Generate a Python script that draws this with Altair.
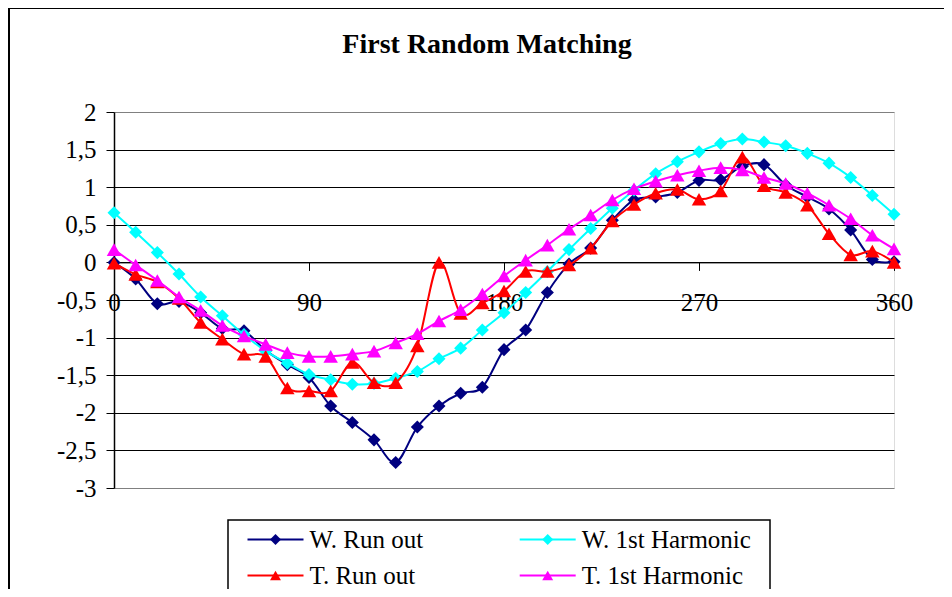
import altair as alt
import pandas as pd

# ---------------- data ----------------
angles = list(range(0, 361, 10))

w_run_out = [0.0, -0.22, -0.55, -0.52, -0.67, -0.88, -0.91, -1.17, -1.36, -1.53,
             -1.91, -2.13, -2.36, -2.66, -2.19, -1.91, -1.74, -1.66, -1.16, -0.90,
             -0.40, -0.02, 0.19, 0.56, 0.83, 0.87, 0.93, 1.09, 1.10, 1.28,
             1.30, 1.03, 0.87, 0.71, 0.43, 0.04, 0.01]

w_1st_harm = [0.66, 0.40, 0.13, -0.155, -0.46, -0.71, -0.96, -1.18, -1.34, -1.49,
              -1.56, -1.62, -1.61, -1.54, -1.45, -1.28, -1.14, -0.90, -0.67, -0.40,
              -0.12, 0.17, 0.45, 0.72, 0.96, 1.18, 1.34, 1.47, 1.58, 1.64,
              1.60, 1.55, 1.45, 1.32, 1.13, 0.89, 0.64]

t_run_out = [-0.01, -0.16, -0.26, -0.48, -0.80, -1.02, -1.22, -1.25, -1.67, -1.71,
             -1.71, -1.33, -1.60, -1.60, -1.11, 0.0, -0.68, -0.54, -0.38, -0.12,
             -0.12, -0.035, 0.19, 0.55, 0.77, 0.92, 0.97, 0.84, 0.95, 1.40,
             1.02, 0.93, 0.76, 0.38, 0.10, 0.15, 0.0]

t_1st_harm = [0.17, -0.035, -0.24, -0.46, -0.64, -0.84, -0.98, -1.09, -1.20, -1.25,
              -1.25, -1.22, -1.18, -1.07, -0.95, -0.78, -0.63, -0.42, -0.18, 0.03,
              0.23, 0.44, 0.63, 0.83, 0.98, 1.08, 1.16, 1.22, 1.26, 1.23,
              1.13, 1.05, 0.92, 0.76, 0.58, 0.36, 0.18]

series_names = ["W. Run out", "W. 1st Harmonic", "T. Run out", "T. 1st Harmonic"]
series_values = [w_run_out, w_1st_harm, t_run_out, t_1st_harm]
series_colors = ["#000080", "#00FFFF", "#FF0000", "#FF00FF"]
series_shapes = ["diamond", "diamond", "triangle-up", "triangle-up"]

y_ticks = [2, 1.5, 1, 0.5, 0, -0.5, -1, -1.5, -2, -2.5, -3]
x_ticks = [0, 90, 180, 270, 360]
chart_title = "First Random Matching"

# ---------------- layout / style ----------------
W, H = 780, 376
FONT = "Liberation Serif"
Y_MIN, Y_MAX = -3, 2
x_axis_offset = -H * (0 - Y_MIN) / (Y_MAX - Y_MIN)  # put x axis at y = 0

xscale = alt.Scale(domain=[0, 360], nice=False, zero=False)
yscale = alt.Scale(domain=[Y_MIN, Y_MAX], nice=False, zero=False)

x_axis = alt.Axis(orient="bottom", offset=x_axis_offset, values=x_ticks, title=None,
                  grid=False, domainColor="black", domainWidth=1, tickColor="black",
                  tickSize=8, labelFont=FONT, labelFontSize=25, labelColor="black",
                  labelPadding=20, labelFlush=False, labelOverlap=False)
y_axis = alt.Axis(values=y_ticks, title=None, grid=True,
                  gridColor={"condition": {"test": "datum.value == 2 || datum.value == -3",
                                           "value": "#808080"}, "value": "black"},
                  gridWidth=1, domainColor="black", domainWidth=1.5, tickColor="black",
                  tickSize=8, labelFont=FONT, labelFontSize=25, labelColor="black",
                  labelPadding=10, labelFlush=False, labelOverlap=False,
                  labelExpr="replace(toString(datum.value), '.', ',')")

layers = []

# outer chart border
frame = alt.Chart(pd.DataFrame({"k": [0]})).mark_rect(
    fill=None, stroke="black", strokeWidth=2
).encode(x=alt.value(-105), x2=alt.value(W + 200), y=alt.value(-104), y2=alt.value(H + 300))
layers.append(frame)

sizes = {"diamond": 170, "triangle-up": 210}
for name, vals, col, shp in zip(series_names, series_values, series_colors, series_shapes):
    df = pd.DataFrame({"a": angles, "v": vals})
    base = alt.Chart(df).encode(
        x=alt.X("a:Q", scale=xscale, axis=x_axis),
        y=alt.Y("v:Q", scale=yscale, axis=y_axis),
    )
    layers.append(base.mark_line(color=col, strokeWidth=2, interpolate="cardinal"))
    layers.append(base.mark_point(filled=True, shape=shp, size=sizes[shp], color=col, opacity=1))

# title
layers.append(
    alt.Chart(pd.DataFrame({"t": [chart_title]})).mark_text(
        font=FONT, fontSize=28, fontWeight="bold", color="black",
        align="center", baseline="alphabetic"
    ).encode(text="t:N", x=alt.value(373), y=alt.value(-59))
)

# legend box
layers.append(
    alt.Chart(pd.DataFrame({"k": [0]})).mark_rect(
        fill="white", stroke="black", strokeWidth=1.5
    ).encode(x=alt.value(114), x2=alt.value(656), y=alt.value(408), y2=alt.value(H + 200))
)

# legend entries (2 columns x 2 rows)
col_x = [133.5, 405.7]
row_y = [427.5, 463.5]
line_len = 56
leg_rows = []
for i, (name, col, shp) in enumerate(zip(series_names, series_colors, series_shapes)):
    cx = col_x[i % 2]
    ry = row_y[i // 2]
    leg_rows.append({"name": name, "color": col, "shape": shp,
                     "x0": cx, "x1": cx + line_len, "xm": cx + line_len / 2,
                     "xt": cx + line_len + 6, "y": ry})
leg = pd.DataFrame(leg_rows)
leg_base = alt.Chart(leg)
layers.append(leg_base.mark_rule(strokeWidth=2).encode(
    x=alt.X("x0:Q", scale=None), x2="x1:Q", y=alt.Y("y:Q", scale=None),
    color=alt.Color("color:N", scale=None)))
layers.append(leg_base.mark_point(filled=True, opacity=1, size=120).encode(
    x=alt.X("xm:Q", scale=None), y=alt.Y("y:Q", scale=None),
    color=alt.Color("color:N", scale=None), shape=alt.Shape("shape:N", scale=None)))
layers.append(leg_base.mark_text(font=FONT, fontSize=25, color="black",
                                 align="left", baseline="middle").encode(
    x=alt.X("xt:Q", scale=None), y=alt.Y("y:Q", scale=None), text="name:N"))

chart = alt.layer(*layers).properties(
    width=W, height=H,
    padding={"left": 106, "top": 104, "right": 50, "bottom": 101},
    autosize=alt.AutoSizeParams(type="none"),
).configure_view(stroke="#808080", strokeWidth=2).configure(
    background="white", font=FONT
).configure_axis(labelFont=FONT)

chart.save("out.html", embed_options={"renderer": "svg", "actions": False})
